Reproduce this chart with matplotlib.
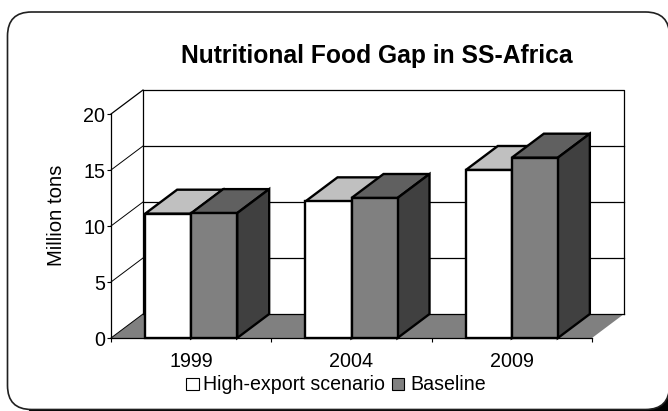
import matplotlib
matplotlib.use("Agg")
import matplotlib.pyplot as plt
from matplotlib.patches import FancyBboxPatch

years = ["1999", "2004", "2009"]
high_export = [11.1, 12.2, 15.0]
baseline = [11.15, 12.5, 16.1]
yticks = [0, 5, 10, 15, 20]

W, H = 668, 411
plt.rcParams['font.family'] = ['Liberation Sans', 'DejaVu Sans']

fig = plt.figure(figsize=(W / 100, H / 100), dpi=100)

# marco redondeado con sombra
bg = fig.add_axes([0, 0, 1, 1])
bg.set_xlim(0, W)
bg.set_ylim(H, 0)
bg.axis("off")
bg.add_patch(FancyBboxPatch((29, 34), 664, 399, boxstyle="round,pad=0,rounding_size=24",
                            fc="black", ec="none", clip_on=True))
bg.add_patch(FancyBboxPatch((7.5, 12), 662, 397.5, boxstyle="round,pad=0,rounding_size=24",
                            fc="white", ec="#202020", lw=1.2, clip_on=True))

# ejes en el plano frontal
ax = fig.add_axes([111 / W, 1 - 338 / H, 481 / W, 224 / H])
ax.set_xlim(0, 3)
ax.set_ylim(0, 20)
ax.patch.set_alpha(0)

dx = 32 / (481 / 3)
dy = 24 / (224 / 20)
lw_bar = 1.7

# piso y pared
ax.fill([0, 3, 3 + dx, dx], [0, 0, dy, dy], color="#808080", ec="none", clip_on=False, zorder=1)
ax.plot([dx, dx, 3 + dx, 3 + dx], [dy, 20 + dy, 20 + dy, dy], color="black", lw=0.9, clip_on=False, zorder=1)
ax.plot([0, dx], [20, 20 + dy], color="black", lw=0.9, clip_on=False, zorder=1)
for t in yticks[:-1]:
    ax.plot([0, dx], [t, t + dy], color="black", lw=0.7, clip_on=False, zorder=1)
    ax.plot([dx, 3 + dx], [t + dy, t + dy], color="black", lw=0.9, clip_on=False, zorder=1)

w = 0.287


def barra(x, v, front, top, side, z):
    ax.fill([x, x + w, x + w + dx, x + dx], [v, v, v + dy, v + dy], fc=top, ec="black", lw=lw_bar,
            joinstyle="miter", clip_on=False, zorder=z)
    ax.fill([x + w, x + w + dx, x + w + dx, x + w], [0, dy, v + dy, v], fc=side, ec="black", lw=lw_bar,
            joinstyle="miter", clip_on=False, zorder=z)
    ax.bar(x, v, w, align="edge", fc=front, ec="black", lw=lw_bar, clip_on=False, zorder=z + 0.1)


for i in range(len(years)):
    x0 = i + 0.5 - w
    barra(x0, high_export[i], "white", "#c0c0c0", "#808080", 3 + i)
    barra(x0 + w, baseline[i], "#808080", "#606060", "#404040", 3.5 + i)

ax.set_xticks([0, 1, 2, 3])
ax.set_xticklabels([])
ax.set_xticks([0.5, 1.5, 2.5], years, minor=True)
ax.tick_params(axis="x", which="major", length=3, width=0.8)
ax.tick_params(axis="x", which="minor", length=0, labelsize=14.2, pad=10)
ax.set_yticks(yticks)
ax.tick_params(axis="y", length=3, width=0.8, labelsize=14.2, pad=1)
for s in ["top", "right"]:
    ax.spines[s].set_visible(False)
ax.spines["left"].set_linewidth(0.9)
ax.spines["bottom"].set_linewidth(0.9)
ax.set_zorder(2)

fig.text(377 / W, 1 - 56 / H, "Nutritional Food Gap in SS-Africa", ha="center", va="center",
         fontsize=17.7, fontweight="bold")
fig.text(56 / W, 1 - 215 / H, "Million tons", rotation=90, ha="center", va="center", fontsize=14.6)

# leyenda
bg.add_patch(plt.Rectangle((186, 378), 12.5, 12, fc="white", ec="black", lw=0.8))
bg.add_patch(plt.Rectangle((392, 378), 12, 12, fc="#808080", ec="black", lw=0.8))
bg.text(203, 384, "High-export scenario", ha="left", va="center", fontsize=14.1)
bg.text(410, 384, "Baseline", ha="left", va="center", fontsize=14.1)

fig.savefig("out.png", dpi=100)
